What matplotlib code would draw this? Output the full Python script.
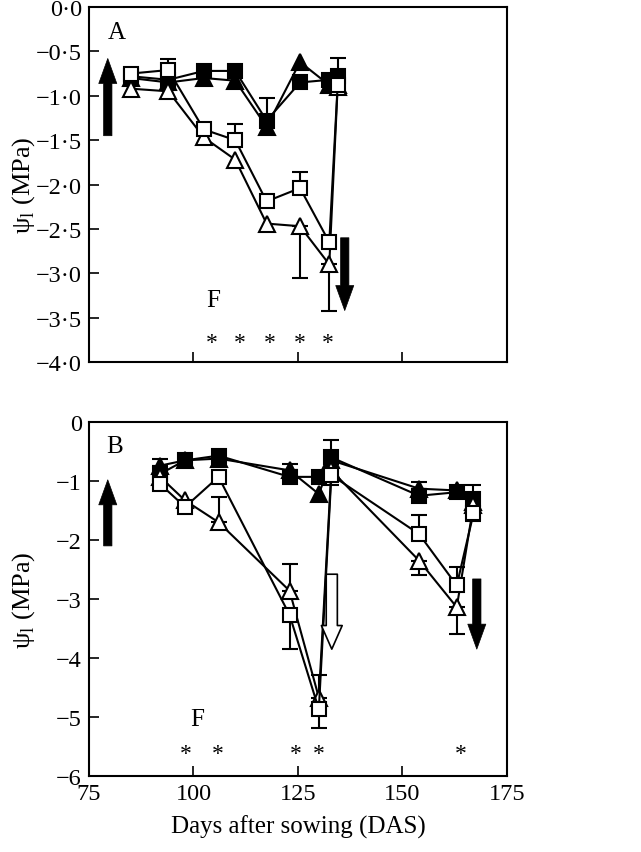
import numpy as np
import matplotlib
matplotlib.use("Agg")
from matplotlib import pyplot as plt
from matplotlib.ticker import FuncFormatter

plt.rcParams['font.family'] = ['Liberation Serif', 'DejaVu Serif']
plt.rcParams['mathtext.fontset'] = 'custom'
plt.rcParams['mathtext.rm'] = 'Liberation Serif'
plt.rcParams['font.size'] = 15

# panel A
A_days = [85, 94, 102.5, 110, 117.5, 125.5, 132.5, 134.5]
A_open_sq = [-0.75, -0.71, -1.38, -1.50, -2.19, -2.04, -2.65, -0.88]
A_open_tri = [-0.92, -0.95, -1.47, -1.72, -2.44, -2.47, -2.90, -0.90]
A_fill_sq = [-0.78, -0.82, -0.72, -0.72, -1.28, -0.85, -0.82, -0.78]
A_fill_tri = [-0.80, -0.85, -0.80, -0.83, -1.35, -0.62, -0.88, -0.88]
# error bars (lower, upper)
A_open_sq_lo = [0, 0, 0, 0, 0, 0, 0, 0]
A_open_sq_up = [0, 0.12, 0.05, 0.18, 0, 0.18, 0, 0]
A_open_tri_lo = [0, 0, 0, 0, 0, 0.58, 0.52, 0]
A_open_tri_up = [0, 0, 0, 0, 0, 0, 0, 0]
A_fill_sq_lo = [0, 0, 0, 0, 0, 0, 0, 0]
A_fill_sq_up = [0, 0, 0, 0, 0.25, 0, 0, 0.2]
A_stars = [104.4, 111.1, 118.3, 125.5, 132.2]

# panel B
B_days = [92, 98, 106, 123, 130, 133, 154, 163, 167]
B_open_sq = [-1.05, -1.44, -0.93, -3.27, -4.87, -0.90, -1.90, -2.77, -1.55]
B_open_tri = [-0.93, -1.33, -1.70, -2.86, -4.67, -0.82, -2.35, -3.14, -1.41]
B_fill_sq = [-0.88, -0.65, -0.57, -0.93, -0.93, -0.60, -1.25, -1.19, -1.30]
B_fill_tri = [-0.74, -0.65, -0.62, -0.82, -1.22, -0.65, -1.13, -1.16, -1.36]
B_open_sq_lo = [0, 0, 0, 0.58, 0.31, 0, 0, 0, 0.12]
B_open_sq_up = [0, 0, 0, 0, 0, 0, 0.32, 0.31, 0]
B_open_tri_lo = [0, 0, 0, 0, 0, 0.25, 0.25, 0.45, 0]
B_open_tri_up = [0, 0, 0.43, 0.46, 0.38, 0, 0, 0, 0]
B_fill_sq_lo = [0, 0, 0, 0, 0, 0.3, 0, 0, 0]
B_fill_sq_up = [0, 0, 0, 0, 0, 0.3, 0, 0, 0]
B_fill_tri_lo = [0.12, 0, 0.11, 0.11, 0, 0, 0, 0, 0]
B_fill_tri_up = [0.12, 0, 0.11, 0.11, 0, 0, 0.11, 0, 0.3]
B_stars = [98.2, 105.8, 124.6, 129.9, 163.9]


def series(ax, x, y, marker, filled, lo=None, up=None):
    x = np.array(x)
    y = np.array(y)
    if lo is not None:
        lo = np.array(lo)
        up = np.array(up)
        m = (lo > 0) | (up > 0)
        for xi, yi, l, u in zip(x[m], y[m], lo[m], up[m]):
            if l > 0:
                ax.errorbar([xi], [yi], yerr=[[l], [0]], fmt='none', ecolor='k',
                            elinewidth=1.5, capsize=6, capthick=1.5, zorder=2)
            if u > 0:
                ax.errorbar([xi], [yi], yerr=[[0], [u]], fmt='none', ecolor='k',
                            elinewidth=1.5, capsize=6, capthick=1.5, zorder=2)
    ax.plot(x, y, color='k', lw=1.5, marker=marker, ms=10.5 if marker == 's' else 11.5,
            mfc='k' if filled else 'white', mec='k', mew=1.5, zorder=3)


def arrow(ax, x, y0, y1, open_=False):
    if open_:
        style = 'simple,head_length=0.85,head_width=0.75,tail_width=0.4'
        fc = 'white'
        lw = 1.2
    else:
        style = 'simple,head_length=0.9,head_width=0.65,tail_width=0.3'
        fc = 'k'
        lw = 0.5
    ax.annotate('', xy=(x, y1), xytext=(x, y0),
                arrowprops=dict(arrowstyle=style, mutation_scale=20, fc=fc, ec='k',
                                lw=lw, shrinkA=0, shrinkB=0))


fig = plt.figure(figsize=(6.41, 8.53), dpi=100)
axA = fig.add_axes([0.1388, 0.5744, 0.652, 0.4162])
axB = fig.add_axes([0.1388, 0.0891, 0.652, 0.415])

series(axA, A_days, A_fill_tri, '^', True)
series(axA, A_days, A_fill_sq, 's', True, A_fill_sq_lo, A_fill_sq_up)
series(axA, A_days, A_open_tri, '^', False, A_open_tri_lo, A_open_tri_up)
series(axA, A_days, A_open_sq, 's', False, A_open_sq_lo, A_open_sq_up)
arrow(axA, 79.5, -1.45, -0.58)
arrow(axA, 136.2, -2.6, -3.42)
axA.text(81.7, -0.28, 'A', ha='center', va='center', fontsize=18)
axA.text(104.7, -3.3, 'F', ha='center', va='center', fontsize=18)
for s in A_stars:
    axA.text(s, -3.78, '*', ha='center', va='center', fontsize=17)

axA.set_xlim(75, 175)
axA.set_ylim(-4.0, 0.0)
axA.set_xticks([100, 125, 150])
axA.set_xticklabels([])
axA.set_yticks(np.arange(-4.0, 0.01, 0.5))
axA.yaxis.set_major_formatter(FuncFormatter(
    lambda v, p: ('%.1f' % v).replace('.', '\u00b7').replace('-', '\u2212')))
axA.set_ylabel(r'ψ$_\mathrm{l}$ (MPa)', fontsize=19)

series(axB, B_days, B_fill_tri, '^', True, B_fill_tri_lo, B_fill_tri_up)
series(axB, B_days, B_fill_sq, 's', True, B_fill_sq_lo, B_fill_sq_up)
series(axB, B_days, B_open_tri, '^', False, B_open_tri_lo, B_open_tri_up)
series(axB, B_days, B_open_sq, 's', False, B_open_sq_lo, B_open_sq_up)
arrow(axB, 79.5, -2.1, -0.98)
arrow(axB, 133.1, -2.58, -3.85, open_=True)
arrow(axB, 167.8, -2.66, -3.85)
axB.text(81.2, -0.4, 'B', ha='center', va='center', fontsize=18)
axB.text(100.8, -5.04, 'F', ha='center', va='center', fontsize=18)
for s in B_stars:
    axB.text(s, -5.62, '*', ha='center', va='center', fontsize=17)

axB.set_xlim(75, 175)
axB.set_ylim(-6, 0)
axB.set_xticks([75, 100, 125, 150, 175])
axB.set_yticks(range(-6, 1))
axB.set_xlabel('Days after sowing (DAS)', fontsize=18, labelpad=8)
axB.set_ylabel(r'ψ$_\mathrm{l}$ (MPa)', fontsize=19)

for ax in (axA, axB):
    ax.tick_params(direction='in', length=7, width=1.2, labelsize=17.5, pad=5)
    ax.yaxis.set_label_coords(-0.125, 0.5)
    for sp in ax.spines.values():
        sp.set_linewidth(1.5)

fig.savefig('out.png', dpi=100)
